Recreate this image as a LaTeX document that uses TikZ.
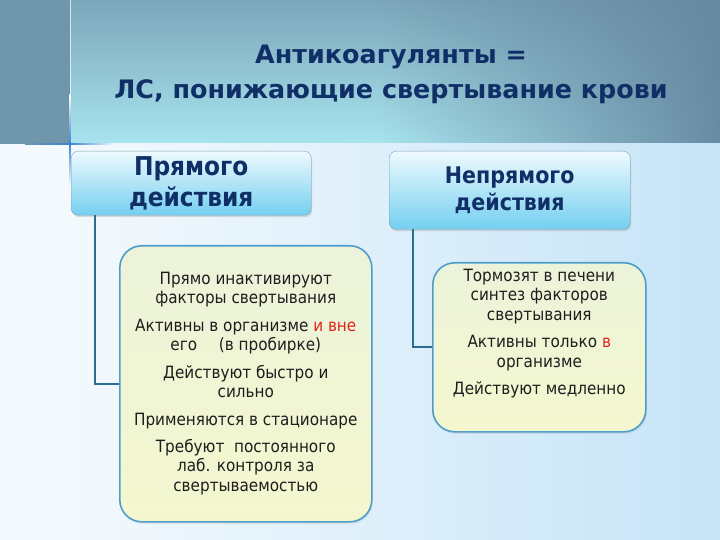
\documentclass[tikz,border=0pt]{standalone}
\usepackage{fontspec}
\setmainfont{DejaVu Sans}
\newfontfamily\condfont{DejaVu Sans Condensed}
\usetikzlibrary{positioning,shadows,fadings}
\definecolor{stripcol}{HTML}{7096AC}
\definecolor{bandtop}{HTML}{7CA6BA}
\definecolor{bandlow}{HTML}{A8E4EE}
\definecolor{bandright}{HTML}{6587A0}
\definecolor{paleleft}{HTML}{F3F9FD}
\definecolor{paleright}{HTML}{C6E4F7}
\definecolor{crossblue}{HTML}{3C82D2}
\definecolor{titlecol}{HTML}{102F66}
\definecolor{boxrim}{HTML}{7FA3B5}
\definecolor{headtop}{HTML}{EEFAFE}
\definecolor{headbot}{HTML}{74CFF0}
\definecolor{inforim}{HTML}{4F9DCB}
\definecolor{infotop}{HTML}{ECF3DA}
\definecolor{infobot}{HTML}{F4F7CE}
\definecolor{linkcol}{HTML}{2C6D8F}
\definecolor{redword}{HTML}{E0241B}
\definecolor{textcol}{HTML}{1E1E1E}
\begin{document}
\begin{tikzpicture}[x=1bp,y=-1bp,
        headbox/.style={draw=boxrim,rounded corners=7bp,top color=headtop,bottom color=headbot,
                anchor=north west,align=center,text=titlecol,
                drop shadow={opacity=.25,shadow xshift=1bp,shadow yshift=-2bp}},
        infobox/.style={draw=inforim,line width=1.6bp,rounded corners=22bp,
                top color=infotop,bottom color=infobot,anchor=north west,
                drop shadow={opacity=.15,shadow xshift=1bp,shadow yshift=-2bp}},
        infotext/.style={align=center,text=textcol,anchor=north,inner sep=0pt,
                font=\condfont\fontsize{17}{19.5}\selectfont},
        joint/.style={draw=linkcol,line width=1.8bp}]
    \useasboundingbox (0,0) rectangle (720,540);
    % background
    \fill[stripcol] (0,0) rectangle (70,144);
    \shade[top color=bandtop,bottom color=bandlow] (70,0) rectangle (720,144);
    \fill[bandright,path fading=west,fill opacity=.95] (380,0) rectangle (720,144);
    \fill[paleleft] (0,144) rectangle (70,540);
    \shade[left color=paleleft,right color=paleright] (70,144) rectangle (720,540);
    \fill[white,opacity=.7] (70,0) rectangle (71,95);
    \shade[top color=white,bottom color=crossblue] (69.4,95) rectangle (70.8,144);
    \shade[top color=crossblue,bottom color=paleleft] (69.4,144) rectangle (70.8,185);
    \shade[left color=stripcol,right color=crossblue] (25,143.3) rectangle (70,144.7);
    \shade[left color=crossblue,right color=paleleft] (70,143.3) rectangle (115,144.7);
    %
    \node[align=center,text=titlecol,font=\bfseries\fontsize{25.5}{35}\selectfont] (title) at (391,74)
        {Антикоагулянты =\\ЛС, понижающие свертывание крови};
    %
    \node[headbox,minimum width=240bp,minimum height=64bp,
        font=\condfont\bfseries\fontsize{26}{31}\selectfont] (direct) at (71,151) {Прямого\\действия};
    \node[headbox,minimum width=241bp,minimum height=78bp,
        font=\condfont\bfseries\fontsize{23}{28}\selectfont] (indirect) at (389,151) {Непрямого\\действия};
    %
    \node[infobox,minimum width=252bp,minimum height=276bp] (directinfo) at (119,245) {};
    \node[infotext,below=27bp of directinfo.north] (directtext) {%
        Прямо инактивируют\\факторы свертывания\\[8bp]
        Активны в организме \textcolor{redword}{и вне}\\его\quad\ (в пробирке)\\[8bp]
        Действуют быстро и\\сильно\\[8bp]
        Применяются в стационаре\\[8bp]
        Требуют\ \ постоянного\\лаб. контроля за\\свертываемостью};
    \node[infobox,minimum width=213bp,minimum height=169bp] (indirectinfo) at (432,262) {};
    \node[infotext,below=7bp of indirectinfo.north] (indirecttext) {%
        Тормозят в печени\\синтез факторов\\свертывания\\[8bp]
        Активны только \textcolor{redword}{в}\\организме\\[8bp]
        Действуют медленно};
    %
    \draw[joint] ([xshift=24bp]direct.south west) |- (directinfo.west);
    \draw[joint] ([xshift=24bp]indirect.south west) |- (indirectinfo.west);
\end{tikzpicture}
\end{document}
